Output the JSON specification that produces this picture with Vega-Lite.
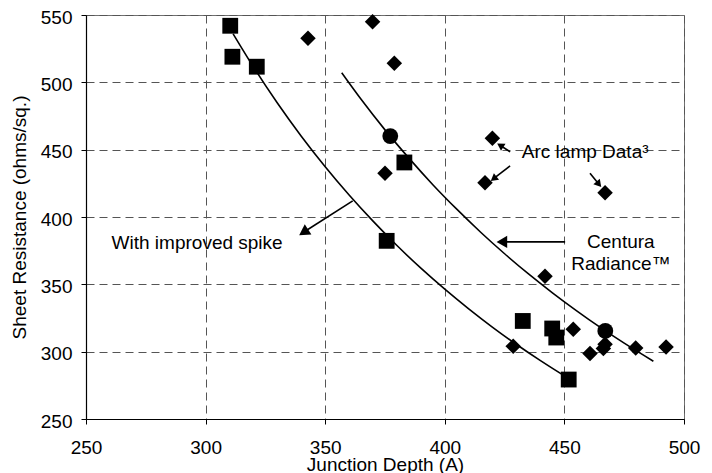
{
  "$schema": "https://vega.github.io/schema/vega-lite/v6.json",
  "width": 598,
  "height": 404,
  "autosize": "none",
  "padding": {"left": 86, "top": 15, "right": 28, "bottom": 54},
  "background": "white",
  "config": {"font": "Liberation Sans", "view": {"stroke": "#707070", "strokeWidth": 1}},
  "datasets": {
    "points": [
      {"marker": "square", "x": 310.3, "y": 542},
      {"marker": "square", "x": 311.2, "y": 519},
      {"marker": "square", "x": 321.4, "y": 511.6},
      {"marker": "square", "x": 383.1, "y": 440.5},
      {"marker": "square", "x": 375.7, "y": 382.3},
      {"marker": "square", "x": 432.6, "y": 322.8},
      {"marker": "square", "x": 444.9, "y": 317.2},
      {"marker": "square", "x": 446.6, "y": 310.5},
      {"marker": "square", "x": 451.8, "y": 279.3},
      {"marker": "circle", "x": 377.2, "y": 460.1},
      {"marker": "circle", "x": 467.1, "y": 315.4},
      {"marker": "diamond", "x": 342.8, "y": 532.7},
      {"marker": "diamond", "x": 369.8, "y": 545},
      {"marker": "diamond", "x": 378.9, "y": 514.1},
      {"marker": "diamond", "x": 419.9, "y": 458.4},
      {"marker": "diamond", "x": 375, "y": 432.4},
      {"marker": "diamond", "x": 416.8, "y": 425.4},
      {"marker": "diamond", "x": 467, "y": 418},
      {"marker": "diamond", "x": 441.9, "y": 356},
      {"marker": "diamond", "x": 453.7, "y": 316.7},
      {"marker": "diamond", "x": 428.6, "y": 304},
      {"marker": "diamond", "x": 460.7, "y": 298.6},
      {"marker": "diamond", "x": 467, "y": 305.5},
      {"marker": "diamond", "x": 466.3, "y": 302.3},
      {"marker": "diamond", "x": 479.8, "y": 302.8},
      {"marker": "diamond", "x": 492.5, "y": 303.5}
    ],
    "curves": [
      {"curve": "spike", "x": 311.5, "y": 536},
      {"curve": "spike", "x": 320, "y": 511.4},
      {"curve": "spike", "x": 330, "y": 484.6},
      {"curve": "spike", "x": 340, "y": 460.0},
      {"curve": "spike", "x": 350, "y": 437.3},
      {"curve": "spike", "x": 360, "y": 416.3},
      {"curve": "spike", "x": 370, "y": 396.9},
      {"curve": "spike", "x": 380, "y": 378.8},
      {"curve": "spike", "x": 390, "y": 362.0},
      {"curve": "spike", "x": 400, "y": 346.4},
      {"curve": "spike", "x": 410, "y": 331.8},
      {"curve": "spike", "x": 420, "y": 318.1},
      {"curve": "spike", "x": 430, "y": 305.3},
      {"curve": "spike", "x": 440, "y": 293.3},
      {"curve": "spike", "x": 451.8, "y": 280.0},
      {"curve": "centura", "x": 356.9, "y": 507.1},
      {"curve": "centura", "x": 365, "y": 487.4},
      {"curve": "centura", "x": 375, "y": 464.7},
      {"curve": "centura", "x": 385, "y": 443.7},
      {"curve": "centura", "x": 395, "y": 424.0},
      {"curve": "centura", "x": 405, "y": 405.8},
      {"curve": "centura", "x": 415, "y": 388.7},
      {"curve": "centura", "x": 425, "y": 372.7},
      {"curve": "centura", "x": 435, "y": 357.7},
      {"curve": "centura", "x": 445, "y": 343.7},
      {"curve": "centura", "x": 455, "y": 330.5},
      {"curve": "centura", "x": 465, "y": 318.0},
      {"curve": "centura", "x": 475, "y": 306.3},
      {"curve": "centura", "x": 487.2, "y": 292.9}
    ],
    "arrows": [
      {"arrow": "arc1", "x": 427.3, "y": 448.4, "x2": 423.6, "y2": 452.7},
      {"arrow": "arc2", "x": 427.3, "y": 438, "x2": 420.8, "y2": 429},
      {"arrow": "arc3", "x": 460.7, "y": 432.4, "x2": 464.1, "y2": 425},
      {"arrow": "spike", "x": 361.5, "y": 412, "x2": 341.6, "y2": 389.4},
      {"arrow": "centura", "x": 450.3, "y": 381.5, "x2": 424.6, "y2": 381.5}
    ],
    "heads": [
      {"arrow": "arc1", "x": 423.6, "y": 452.7},
      {"arrow": "arc2", "x": 420.8, "y": 429},
      {"arrow": "arc3", "x": 464.1, "y": 425},
      {"arrow": "spike", "x": 341.6, "y": 389.4},
      {"arrow": "centura", "x": 424.6, "y": 381.5}
    ],
    "labelsLeft": [
      {"text": "Arc lamp Data³", "x": 432.2, "y": 443.5},
      {"text": "With improved spike", "x": 260.7, "y": 375.9}
    ],
    "labelsCenter": [
      {"text": "Centura", "x": 473.6, "y": 377.1},
      {"text": "Radiance™", "x": 473.6, "y": 360.5}
    ]
  },
  "encoding": {
    "x": {
      "field": "x",
      "type": "quantitative",
      "scale": {"domain": [250, 500], "nice": false, "zero": false},
      "axis": {
        "values": [250, 300, 350, 400, 450, 500],
        "title": "Junction Depth (A)",
        "grid": true,
        "gridDash": [8, 5],
        "gridColor": "#555555",
        "gridWidth": 1,
        "domainColor": "black",
        "domainWidth": 1.2,
        "tickColor": "black",
        "tickSize": 5,
        "labelFontSize": 19,
        "labelColor": "black",
        "labelPadding": 14,
        "labelFlush": false,
        "labelOverlap": false,
        "titleFontSize": 19,
        "titleFontWeight": "normal",
        "titleColor": "black",
        "titleY": 51,
        "titleBaseline": "alphabetic"
      }
    },
    "y": {
      "field": "y",
      "type": "quantitative",
      "scale": {"domain": [250, 550], "nice": false, "zero": false},
      "axis": {
        "values": [250, 300, 350, 400, 450, 500, 550],
        "title": "Sheet Resistance (ohms/sq.)",
        "grid": true,
        "gridDash": [8, 5],
        "gridColor": "#555555",
        "gridWidth": 1,
        "domainColor": "black",
        "domainWidth": 1.2,
        "tickColor": "black",
        "tickSize": 5,
        "labelFontSize": 19,
        "labelColor": "black",
        "labelPadding": 9,
        "labelOffset": 2,
        "labelFlush": false,
        "labelOverlap": false,
        "titleFontSize": 19,
        "titleFontWeight": "normal",
        "titleColor": "black",
        "titleX": -61,
        "titleY": 202,
        "titleAlign": "center",
        "titleBaseline": "alphabetic"
      }
    }
  },
  "layer": [
    {
      "data": {"name": "curves"},
      "mark": {"type": "line", "color": "black", "strokeWidth": 1.6, "interpolate": "monotone"},
      "encoding": {"detail": {"field": "curve"}}
    },
    {
      "data": {"name": "arrows"},
      "mark": {"type": "rule", "color": "black", "strokeWidth": 1.6},
      "encoding": {"x2": {"field": "x2"}, "y2": {"field": "y2"}}
    },
    {
      "data": {"name": "heads"},
      "transform": [{"filter": "datum.arrow === 'arc1'"}],
      "mark": {"type": "point", "shape": "triangle", "filled": true, "color": "black", "size": 70, "angle": 303, "opacity": 1}
    },
    {
      "data": {"name": "heads"},
      "transform": [{"filter": "datum.arrow === 'arc2'"}],
      "mark": {"type": "point", "shape": "triangle", "filled": true, "color": "black", "size": 70, "angle": 232, "opacity": 1}
    },
    {
      "data": {"name": "heads"},
      "transform": [{"filter": "datum.arrow === 'arc3'"}],
      "mark": {"type": "point", "shape": "triangle", "filled": true, "color": "black", "size": 70, "angle": 140, "opacity": 1}
    },
    {
      "data": {"name": "heads"},
      "transform": [{"filter": "datum.arrow === 'spike'"}],
      "mark": {"type": "point", "shape": "triangle", "filled": true, "color": "black", "size": 150, "angle": 237, "opacity": 1}
    },
    {
      "data": {"name": "heads"},
      "transform": [{"filter": "datum.arrow === 'centura'"}],
      "mark": {"type": "point", "shape": "triangle", "filled": true, "color": "black", "size": 150, "angle": 270, "opacity": 1}
    },
    {
      "data": {"name": "points"},
      "transform": [{"filter": "datum.marker === 'diamond'"}],
      "mark": {"type": "point", "shape": "diamond", "filled": true, "color": "black", "size": 240, "opacity": 1}
    },
    {
      "data": {"name": "points"},
      "transform": [{"filter": "datum.marker === 'square'"}],
      "mark": {"type": "point", "shape": "square", "filled": true, "color": "black", "size": 250, "opacity": 1}
    },
    {
      "data": {"name": "points"},
      "transform": [{"filter": "datum.marker === 'circle'"}],
      "mark": {"type": "point", "shape": "circle", "filled": true, "color": "black", "size": 250, "opacity": 1}
    },
    {
      "data": {"name": "labelsLeft"},
      "mark": {"type": "text", "align": "left", "baseline": "alphabetic", "fontSize": 19, "color": "black"},
      "encoding": {"text": {"field": "text"}}
    },
    {
      "data": {"name": "labelsCenter"},
      "mark": {"type": "text", "align": "center", "baseline": "alphabetic", "fontSize": 19, "color": "black"},
      "encoding": {"text": {"field": "text"}}
    }
  ]
}
